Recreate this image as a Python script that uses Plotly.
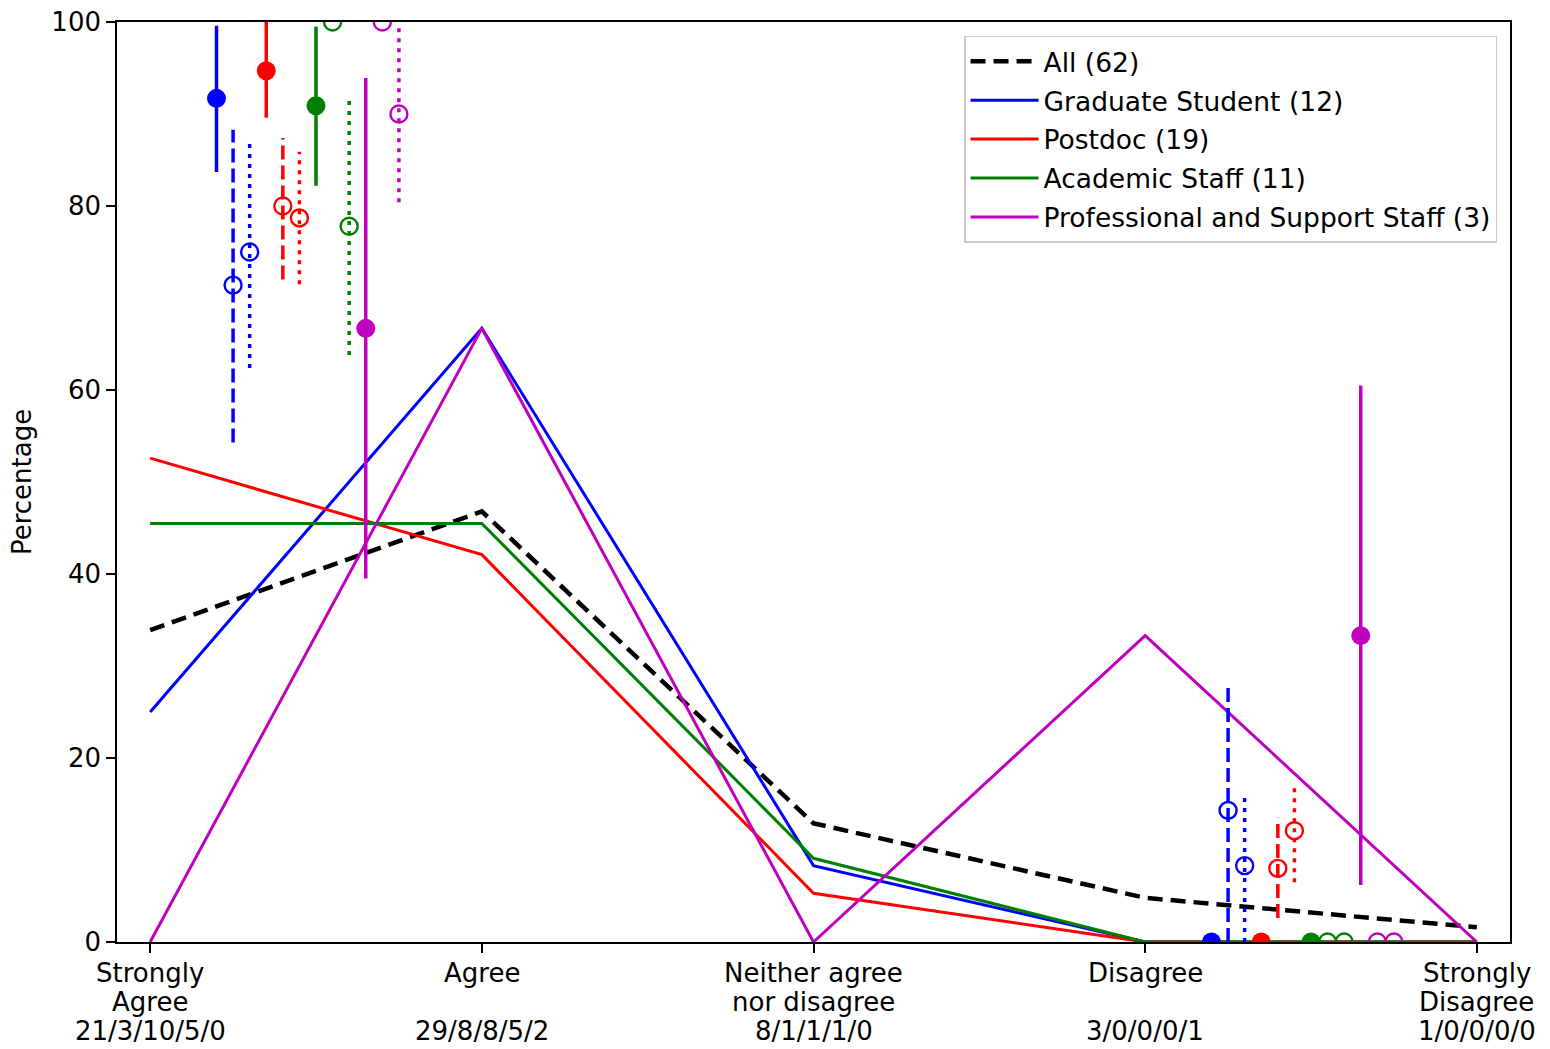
import plotly.graph_objects as go

# ---------------- data ----------------
categories = ["Strongly<br>Agree", "Agree", "Neither agree<br>nor disagree", "Disagree", "Strongly<br>Disagree"]
count_labels = ["21/3/10/5/0", "29/8/8/5/2", "8/1/1/1/0", "3/0/0/0/1", "1/0/0/0/0"]

series_names = ["All (62)", "Graduate Student (12)", "Postdoc (19)", "Academic Staff (11)",
                "Professional and Support Staff (3)"]
all_pct = [33.9, 46.8, 12.9, 4.8, 1.6]
grad_pct = [25.0, 66.7, 8.3, 0.0, 0.0]
postdoc_pct = [52.6, 42.1, 5.3, 0.0, 0.0]
academic_pct = [45.5, 45.5, 9.1, 0.0, 0.0]
prof_pct = [0.0, 66.7, 0.0, 33.3, 0.0]

# summary points with intervals, per group (grad, postdoc, academic, prof) x style (solid, dashed, dotted)
# group near "Strongly Agree" (base 0)
agree_val = [91.7, 71.4, 75.0, 94.7, 80.0, 78.7, 90.9, 100.0, 77.8, 66.7, 100.0, 90.0]
agree_lo = [83.7, 54.3, 62.4, 89.6, 72.0, 71.5, 82.2, 100.0, 63.8, 39.5, 100.0, 80.4]
agree_hi = [99.6, 88.3, 87.2, 100.5, 87.4, 85.9, 99.5, 100.5, 91.5, 93.9, 100.5, 99.6]
# group near "Disagree" (base 3)
dis_val = [0.0, 14.3, 8.3, 0.0, 8.0, 12.1, 0.0, 0.0, 0.0, 33.3, 0.0, 0.0]
dis_lo = [0.0, 0.0, 0.0, 0.0, 2.6, 6.5, 0.0, 0.0, 0.0, 6.2, 0.0, 0.0]
dis_hi = [0.0, 27.6, 15.8, 0.0, 13.5, 17.3, 0.0, 0.0, 0.0, 60.5, 0.0, 0.0]

# ---------------- styling ----------------
FONT = "DejaVu Sans"
FS = 26
colors = ["#000000", "#0000ff", "#ff0000", "#008000", "#bf00bf"]
group_colors = colors[1:]
style_dash = ["solid", "14px,6px", "4px,6px"]

x_idx = list(range(len(categories)))
fig = go.Figure()

series_vals = [all_pct, grad_pct, postdoc_pct, academic_pct, prof_pct]
for i, (name, vals) in enumerate(zip(series_names, series_vals)):
    if i == 0:
        line = dict(color=colors[i], width=4.5, dash="15px,8px")
    else:
        line = dict(color=colors[i], width=3)
    fig.add_trace(go.Scatter(x=x_idx, y=vals, mode="lines", name=name, line=line,
                             legendgroup=f"g{i}", legendrank=i + 1))


def add_interval_group(base, vals, los, his):
    for k in range(len(vals)):
        g, s = divmod(k, 3)
        xp = base + 0.2 + 0.05 * k
        col = group_colors[g]
        fig.add_trace(go.Scatter(x=[xp, xp], y=[los[k], his[k]], mode="lines",
                                 line=dict(color=col, width=3.5, dash=style_dash[s]),
                                 showlegend=False, hoverinfo="skip"))
        if s == 0:
            marker = dict(symbol="circle", size=19, color=col)
        else:
            marker = dict(symbol="circle-open", size=17, color=col, line=dict(width=2.4, color=col))
        fig.add_trace(go.Scatter(x=[xp], y=[vals[k]], mode="markers", marker=marker,
                                 showlegend=False))


add_interval_group(0, agree_val, agree_lo, agree_hi)
add_interval_group(3, dis_val, dis_lo, dis_hi)

# x tick labels as three text rows (tighter line spacing, like the reference)
row_shifts = [-31, -60, -89]
for xi, cat, cnt in zip(x_idx, categories, count_labels):
    parts = cat.split("<br>")
    rows = [parts[0], parts[1] if len(parts) > 1 else "", cnt]
    for txt, sh in zip(rows, row_shifts):
        if not txt:
            continue
        fig.add_annotation(x=xi, xref="x", y=0, yref="paper", yanchor="middle", xanchor="center",
                           yshift=sh, text=txt, showarrow=False,
                           font=dict(family=FONT, size=FS, color="black"))

axis_common = dict(showline=True, mirror=True, linecolor="black", linewidth=1.6,
                   ticks="outside", ticklen=9, tickwidth=1.5, tickcolor="black",
                   showgrid=False, zeroline=False, automargin=False,
                   tickfont=dict(family=FONT, size=FS, color="black"))

fig.update_layout(
    width=1550, height=1049,
    margin=dict(l=117, r=40, t=22, b=107),
    paper_bgcolor="white", plot_bgcolor="white",
    font=dict(family=FONT, size=FS, color="black"),
    xaxis=dict(range=[-0.1, 4.1], tickmode="array", tickvals=x_idx, showticklabels=False,
               **axis_common),
    yaxis=dict(range=[0, 100], tickmode="array", tickvals=[0, 20, 40, 60, 80, 100],
               title=dict(text="Percentage", font=dict(family=FONT, size=FS), standoff=12),
               **axis_common),
    legend=dict(x=0.9907, y=0.9848, xanchor="right", yanchor="top",
                bgcolor="white", bordercolor="#cccccc", borderwidth=1.5,
                font=dict(family=FONT, size=26.5, color="black"), tracegroupgap=1.5,
                itemwidth=68, traceorder="grouped"),
    showlegend=True,
)

fig.write_html("out.html", config={"displayModeBar": False},
               post_script="document.body.style.margin='0';")
